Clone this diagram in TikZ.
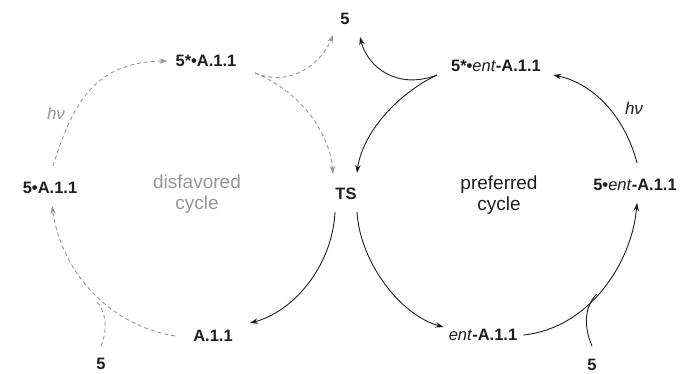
\documentclass[tikz,border=0pt]{standalone}
\usepackage{fontspec}
\setmainfont{Liberation Sans}
\usetikzlibrary{arrows.meta}
\definecolor{dimgray}{RGB}{150,150,150}
\definecolor{ink}{RGB}{30,30,30}
\tikzset{
  lbl/.style={font=\fontsize{16.5}{18}\selectfont\bfseries, text=ink, inner sep=0pt},
  cyc/.style={font=\fontsize{19}{21}\selectfont, align=center, inner sep=0pt},
  hv/.style={font=\fontsize{17}{19}\selectfont\itshape, inner sep=0pt},
  tip/.style={-{Stealth[length=8pt,width=5.5pt]}},
  solidarr/.style={tip, draw=ink, line width=0.9pt},
  dashline/.style={draw=dimgray, line width=0.9pt, dash pattern=on 4pt off 3pt},
  dasharr/.style={tip, dashline},
}
\begin{document}
\begin{tikzpicture}[x=1pt,y=-1pt]
\useasboundingbox (0,0) rectangle (684,373);

% species
\node[lbl] (top5)   at (345,19)  {5};
\node[lbl] (exL)    at (206,61)  {5*\textbullet A.1.1};
\node[lbl] (exR)    at (496,66)  {5*\textbullet\textmd{\textit{ent}}-A.1.1};
\node[lbl] (cxL)    at (50,188)  {5\textbullet A.1.1};
\node[lbl] (cxR)    at (635,185) {5\textbullet\textmd{\textit{ent}}-A.1.1};
\node[lbl] (ts)     at (346,194) {TS};
\node[lbl] (catL)   at (213,336) {A.1.1};
\node[lbl] (catR)   at (483,335) {\textmd{\textit{ent}}-A.1.1};
\node[lbl] (subL)   at (101,364) {5};
\node[lbl] (subR)   at (592,365) {5};

% cycle captions
\node[cyc, text=dimgray] (capL) at (197,194) {disfavored\\cycle};
\node[cyc, text=ink]     (capR) at (499,195) {preferred\\cycle};
\node[hv, text=dimgray]  (hvL)  at (56,113)  {hν};
\node[hv, text=ink]      (hvR)  at (634,108) {hν};

% branch points
\coordinate (jL) at (96,301);
\coordinate (jR) at (597,294);
\coordinate (sL) at (255,73);
\coordinate (sR) at (437,75);

% disfavored cycle (dashed, grey)
\draw[dasharr] ([xshift=3pt,yshift=16pt]cxL.north) .. controls (74,98) and (98,62) .. ([xshift=-8pt]exL.west);
\draw[dasharr] (sL) .. controls (292,88) and (322,62) .. ([xshift=-12pt,yshift=-10pt]top5.south);
\draw[dasharr] (sL) .. controls (302,92) and (330,135) .. ([xshift=-13pt,yshift=14pt]ts.north);
\draw[dasharr] ([xshift=-18pt]catL.west) .. controls (112,326) and (62,275) .. ([xshift=2pt,yshift=-12pt]cxL.south);
\draw[dashline] ([yshift=12pt]subL.north) .. controls (108,330) and (106,310) .. (jL);

% preferred cycle (solid)
\draw[solidarr] (sR) .. controls (398,90) and (368,68) .. ([xshift=15pt,yshift=-12pt]top5.south);
\draw[solidarr] (sR) .. controls (395,95) and (362,135) .. ([xshift=11pt,yshift=15pt]ts.north);
\draw[solidarr] ([xshift=11pt,yshift=-12pt]ts.south) .. controls (360,262) and (400,315) .. ([xshift=-5pt,yshift=8pt]catR.west);
\draw[solidarr] ([xshift=-11pt,yshift=-12pt]ts.south) .. controls (332,268) and (292,312) .. ([xshift=37pt,yshift=13pt]catL.center);
\draw[solidarr] ([xshift=6pt]catR.east) .. controls (590,328) and (632,262) .. ([xshift=2pt,yshift=-12pt]cxR.south);
\draw[draw=ink, line width=0.9pt] ([yshift=13pt]subR.north) .. controls (583,325) and (585,305) .. (jR);
\draw[solidarr] ([xshift=2pt,yshift=16pt]cxR.north) .. controls (626,120) and (596,84) .. ([xshift=12pt,yshift=-9pt]exR.east);
\end{tikzpicture}
\end{document}
